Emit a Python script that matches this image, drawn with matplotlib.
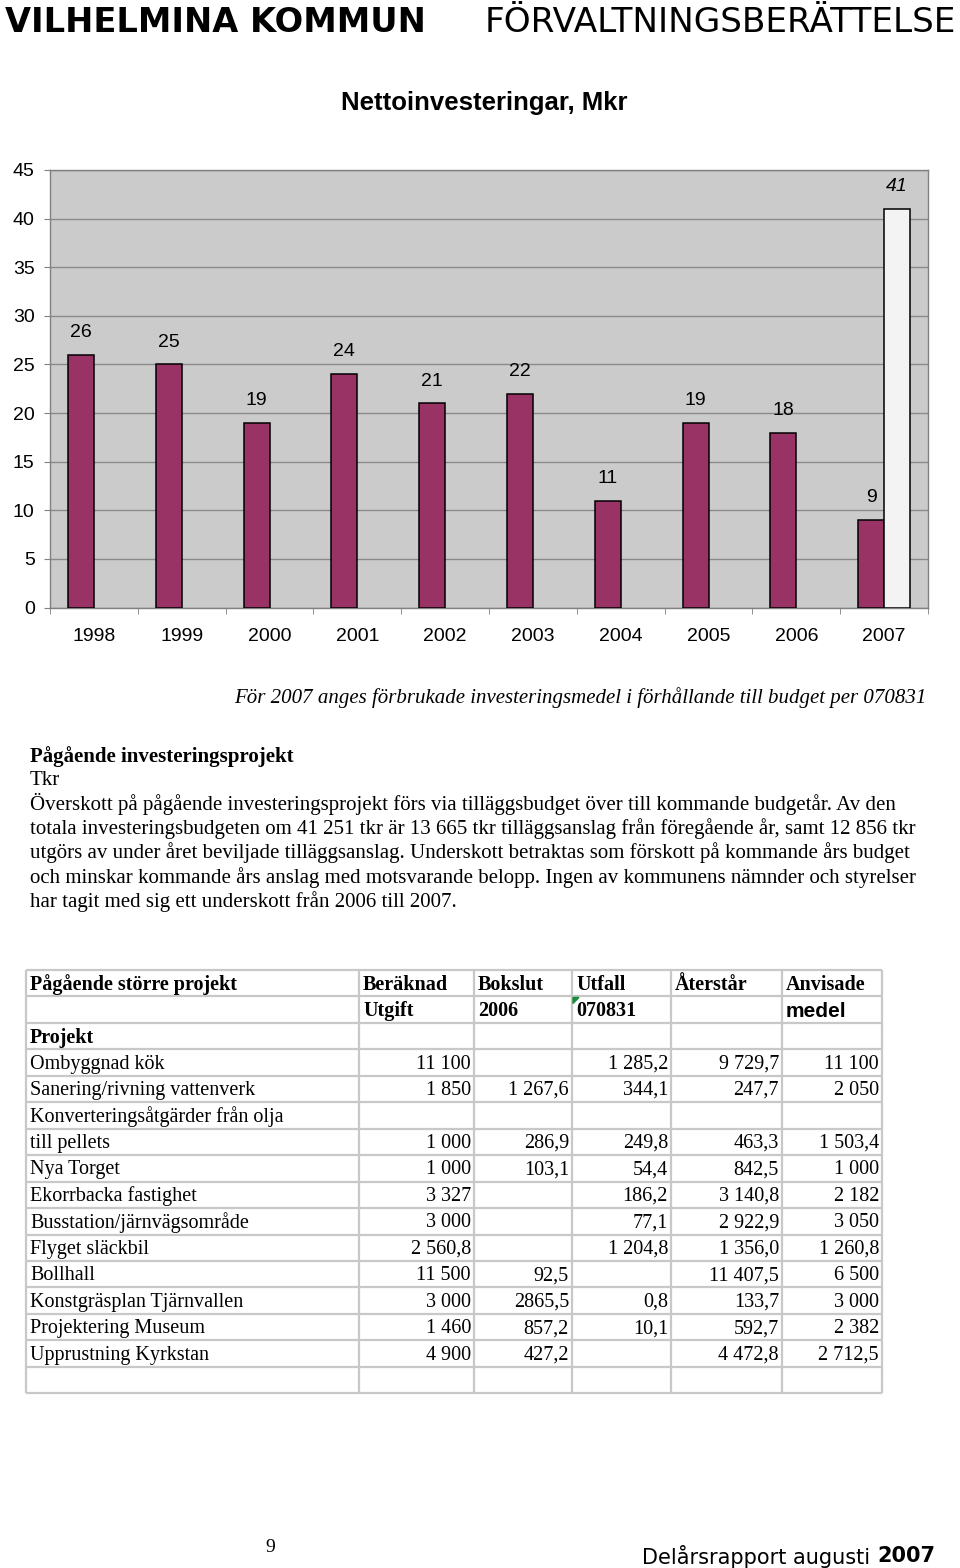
import numpy as np
import matplotlib
matplotlib.use("Agg")
import matplotlib.pyplot as plt
from matplotlib.patches import Polygon

# ---------------- data ----------------
years = ['1998', '1999', '2000', '2001', '2002', '2003', '2004', '2005', '2006', '2007']
utfall = [26, 25, 19, 24, 21, 22, 11, 19, 18, 9]
budget_year = '2007'
budget_value = 41
yticks = [0, 5, 10, 15, 20, 25, 30, 35, 40, 45]

note = "För 2007 anges förbrukade investeringsmedel i förhållande till budget per 070831"
para_title = "Pågående investeringsprojekt"
para_lines = [
    "Tkr",
    "Överskott på pågående investeringsprojekt förs via tilläggsbudget över till kommande budgetår. Av den",
    "totala investeringsbudgeten om 41 251 tkr är 13 665 tkr tilläggsanslag från föregående år, samt 12 856 tkr",
    "utgörs av under året beviljade tilläggsanslag. Underskott betraktas som förskott på kommande års budget",
    "och minskar kommande års anslag med motsvarande belopp. Ingen av kommunens nämnder och styrelser",
    "har tagit med sig ett underskott från 2006 till 2007.",
]

header1 = ['Pågående större projekt', 'Beräknad', 'Bokslut', 'Utfall', 'Återstår', 'Anvisade']
header2 = ['', 'Utgift', '2006', '070831', '', 'medel']
projects = ['Projekt', 'Ombyggnad kök', 'Sanering/rivning vattenverk', 'Konverteringsåtgärder från olja',
            'till pellets', 'Nya Torget', 'Ekorrbacka fastighet', 'Busstation/järnvägsområde',
            'Flyget släckbil', 'Bollhall', 'Konstgräsplan Tjärnvallen', 'Projektering Museum',
            'Upprustning Kyrkstan', '']
beraknad = ['', '11 100', '1 850', '', '1 000', '1 000', '3 327', '3 000', '2 560,8', '11 500', '3 000', '1 460', '4 900', '']
bokslut = ['', '', '1 267,6', '', '286,9', '103,1', '', '', '', '92,5', '2865,5', '857,2', '427,2', '']
utfall_t = ['', '1 285,2', '344,1', '', '249,8', '54,4', '186,2', '77,1', '1 204,8', '', '0,8', '10,1', '', '']
aterstar = ['', '9 729,7', '247,7', '', '463,3', '842,5', '3 140,8', '2 922,9', '1 356,0', '11 407,5', '133,7', '592,7', '4 472,8', '']
anvisade = ['', '11 100', '2 050', '', '1 503,4', '1 000', '2 182', '3 050', '1 260,8', '6 500', '3 000', '2 382', '2 712,5', '']

# ---------------- figure ----------------
W, H = 960, 1568
fig = plt.figure(figsize=(W / 100, H / 100), dpi=100)
fig.patch.set_facecolor('white')

ov = fig.add_axes([0, 0, 1, 1])
ov.set_xlim(0, W)
ov.set_ylim(H, 0)
ov.axis('off')

SANS = ['Liberation Sans', 'DejaVu Sans']
SERIF = ['Liberation Serif', 'DejaVu Serif']

# header
ov.text(5, 22, "VILHELMINA KOMMUN", fontsize=24.2, fontweight='bold', family='DejaVu Sans',
        ha='left', va='center')
ov.text(485, 22, "FÖRVALTNINGSBERÄTTELSE", fontsize=24.7, family='DejaVu Sans',
        ha='left', va='center')
ov.text(484, 103, "Nettoinvesteringar, Mkr", fontsize=18.5, fontweight='bold', family=SANS,
        ha='center', va='center')

# ---------------- chart ----------------
left, right, top, bottom = 50, 928, 170, 607.5
ax = fig.add_axes([left / W, 1 - bottom / H, (right - left) / W, (bottom - top) / H])
ax.set_facecolor('#cbcbcb')
x = np.arange(len(years))
w = 0.296
purple = '#993366'
ax.bar(x - w / 2, utfall, width=w, color=purple, edgecolor='black', linewidth=1.1, zorder=3)
bi = years.index(budget_year)
ax.bar([bi + w / 2], [budget_value], width=w, color='#f3f3f3', edgecolor='black', linewidth=1.1, zorder=3)

FS = 14
for xi, v in zip(x, utfall):
    ax.annotate(str(v), (xi - w / 2, v), xytext=(0, 16), textcoords='offset points',
                ha='center', va='center', fontsize=FS, family=SANS)
ax.annotate(str(budget_value), (bi + w / 2, budget_value), xytext=(0, 16), textcoords='offset points',
            ha='center', va='center', fontsize=FS, family=SANS, style='italic')

ax.set_xlim(-0.5, len(years) - 0.5)
ax.set_ylim(0, 45)
ax.set_yticks(yticks)
ax.set_yticklabels([str(t) for t in yticks], fontsize=FS, family=SANS)
ax.set_xticks(x)
ax.set_xticklabels(years, fontsize=FS, family=SANS)
ax.set_xticks(np.arange(-0.5, len(years), 1), minor=True)
ax.tick_params(axis='x', which='major', length=0, pad=15)
ax.tick_params(axis='x', which='minor', length=4.5, color='#808080', direction='out')
ax.tick_params(axis='y', which='major', length=4, color='#808080', pad=7)
ax.yaxis.grid(True, color='#8a8a8a', linewidth=1.0)
ax.set_axisbelow(True)
for s in ax.spines.values():
    s.set_color('#808080')
    s.set_linewidth(1.0)

# ---------------- text ----------------
ov.text(926, 698, note, fontsize=15, family=SERIF, style='italic', ha='right', va='center')
PFS = 15
ov.text(30, 757, para_title, fontsize=PFS, family=SERIF, fontweight='bold', ha='left', va='center')
for i, line in enumerate(para_lines):
    ov.text(30, 780 + i * 24.3, line, fontsize=PFS, family=SERIF, ha='left', va='center')

# ---------------- table ----------------
col_edges = [26, 359, 474, 572, 671, 782, 882]
row_top = 970
row_h = 26.45
n_rows = 2 + len(projects)
gridc = '#c8c8c8'
for k in range(n_rows + 1):
    yk = row_top + k * row_h
    ov.plot([col_edges[0], col_edges[-1]], [yk, yk], color=gridc, lw=1.6, solid_capstyle='butt')
for c in col_edges:
    ov.plot([c, c], [row_top, row_top + n_rows * row_h], color=gridc, lw=1.6, solid_capstyle='butt')

TFS = 14.5
def cy(r):
    return row_top + (r + 0.5) * row_h + 1.5

for j, t in enumerate(header1):
    ov.text(col_edges[j] + 4, cy(0), t, fontsize=TFS, family=SERIF, fontweight='bold', ha='left', va='center')
for j, t in enumerate(header2):
    if t == 'medel':
        ov.text(col_edges[j] + 4, cy(1), t, fontsize=15, family=SANS, fontweight='bold', ha='left', va='center')
    elif t:
        ov.text(col_edges[j] + 4, cy(1), t, fontsize=TFS, family=SERIF, fontweight='bold', ha='left', va='center')

# green indicator
c3 = col_edges[3]
r1 = row_top + row_h
ov.add_patch(Polygon([[c3 + 1, r1 + 1], [c3 + 7, r1 + 1], [c3 + 1, r1 + 7]], closed=True,
                     color='#1e8a3c', zorder=5))

cols = [beraknad, bokslut, utfall_t, aterstar, anvisade]
for i, p in enumerate(projects):
    r = i + 2
    if p:
        ov.text(col_edges[0] + 4, cy(r), p, fontsize=TFS, family=SERIF,
                fontweight='bold' if p == 'Projekt' else 'normal', ha='left', va='center')
    for j, colvals in enumerate(cols):
        v = colvals[i]
        if v:
            ov.text(col_edges[j + 2] - 3, cy(r), v, fontsize=TFS, family=SERIF, ha='right', va='center')

# ---------------- footer ----------------
ov.text(270, 1548, "9", fontsize=14, family=SERIF, ha='center', va='center')
tdel = ov.text(935, 1556, "Delårsrapport augusti ", fontsize=15, family='DejaVu Sans', ha='right', va='center')
t2007 = ov.text(935, 1556, "2007", fontsize=15, family='DejaVu Sans', fontweight='bold', ha='right', va='center')
fig.canvas.draw()
wpx = t2007.get_window_extent().width
tdel.set_x(935 - wpx)

fig.savefig('out.png', dpi=100, facecolor='white')
